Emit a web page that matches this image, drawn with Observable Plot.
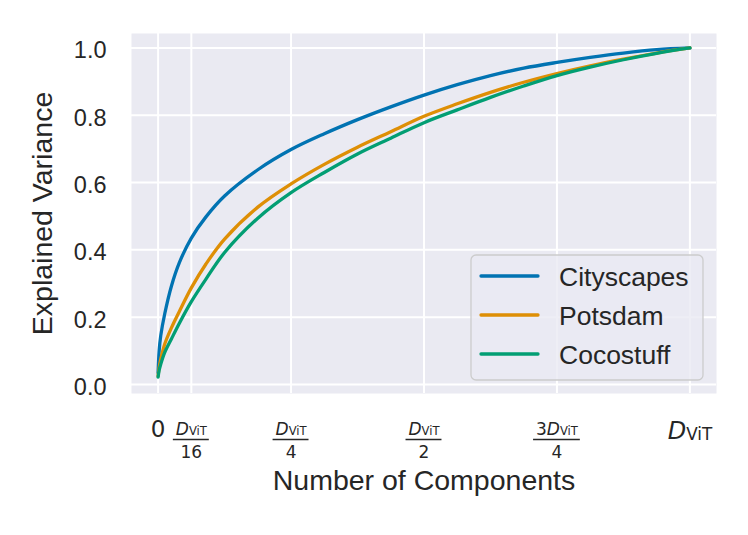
<!DOCTYPE html>
<html>
<head>
<meta charset="utf-8">
<script src="https://cdn.jsdelivr.net/npm/d3@7"></script>
<script src="https://cdn.jsdelivr.net/npm/@observablehq/plot@0.6"></script>
<style>
  html, body { margin: 0; padding: 0; background: #ffffff; }
  #chart svg { display: block; }
</style>
</head>
<body>
<div id="chart"></div>
<script>
// ---- data ----
const xFrac = [0, 0.002, 0.005, 0.0125, 0.025, 0.04, 0.0625, 0.09, 0.125, 0.1875, 0.25, 0.3125, 0.375, 0.4375, 0.5, 0.5625, 0.625, 0.6875, 0.75, 0.8125, 0.875, 0.9375, 1.0];
const cityscapes = [0.035, 0.10, 0.145, 0.21, 0.292, 0.362, 0.435, 0.498, 0.560, 0.638, 0.698, 0.745, 0.787, 0.825, 0.860, 0.891, 0.918, 0.940, 0.957, 0.972, 0.985, 0.995, 1.0];
const potsdam    = [0.025, 0.05, 0.075, 0.12, 0.168, 0.217, 0.287, 0.358, 0.432, 0.527, 0.596, 0.654, 0.705, 0.751, 0.797, 0.834, 0.868, 0.898, 0.924, 0.947, 0.967, 0.985, 1.0];
const cocostuff  = [0.022, 0.042, 0.06, 0.095, 0.135, 0.182, 0.246, 0.313, 0.392, 0.494, 0.570, 0.630, 0.685, 0.732, 0.778, 0.816, 0.853, 0.887, 0.918, 0.943, 0.965, 0.984, 1.0];
const seriesNames = ["Cityscapes", "Potsdam", "Cocostuff"];
const seriesColors = ["#0173B2", "#DE8F05", "#029E73"];
const yTicks = [0, 0.2, 0.4, 0.6, 0.8, 1.0];
const xTicks = [0, 1/16, 1/4, 1/2, 3/4, 1];
const xTickNum = ["", "D", "D", "D", "3D", ""];
const xTickDen = ["", "16", "4", "2", "4", ""];
const xTickPlain = ["0", "", "", "", "", ""];
const xTickBig = ["", "", "", "", "", "D"];
const xTitle = "Number of Components";
const yTitle = "Explained Variance";

const seriesValues = [cityscapes, potsdam, cocostuff];
const rows = seriesNames.flatMap((name, s) => xFrac.map((x, i) => ({series: name, x, y: seriesValues[s][i]})));
const tickRows = xTicks.map((v, i) => ({v, num: xTickNum[i], den: xTickDen[i], plain: xTickPlain[i], big: xTickBig[i]}));

const textColor = "#262626";
const W = 748, H = 535;
const mL = 131, mR = 32, mT = 33, mB = 142;
const mathFont = "'DejaVu Sans', sans-serif";

const plot = Plot.plot({
  width: W,
  height: H,
  marginLeft: mL,
  marginRight: mR,
  marginTop: mT,
  marginBottom: mB,
  style: {fontFamily: "'Liberation Sans', Arial, sans-serif", color: textColor, background: "#ffffff"},
  x: {domain: [-0.05, 1.05], axis: null},
  y: {domain: [-0.027, 1.043]},
  color: {domain: seriesNames, range: seriesColors},
  marks: [
    Plot.frame({fill: "#EAEAF2", stroke: "none"}),
    Plot.gridX({ticks: xTicks, stroke: "#ffffff", strokeOpacity: 1, strokeWidth: 2}),
    Plot.gridY({ticks: yTicks, stroke: "#ffffff", strokeOpacity: 1, strokeWidth: 2}),
    Plot.axisY({ticks: yTicks, tickSize: 0, tickPadding: 25, tickFormat: d3.format(".1f"), fontSize: 23.5, label: null, dy: 3, fill: textColor}),
    Plot.line(rows, {x: "x", y: "y", z: "series", stroke: "series", strokeWidth: 3.3, curve: "catmull-rom", strokeLinecap: "round", strokeLinejoin: "round"}),
    // x tick labels (fractions of D_ViT)
    Plot.text(tickRows.filter(d => d.plain), {x: "v", text: "plain", frameAnchor: "bottom", lineAnchor: "bottom", dy: 43, fontSize: 23, fontFamily: mathFont, fill: textColor}),
    Plot.text(tickRows.filter(d => d.num), {x: "v", text: "num", frameAnchor: "bottom", lineAnchor: "bottom", dy: 41, fontSize: 17, fontFamily: mathFont, fill: textColor}),
    Plot.text(tickRows.filter(d => d.den), {x: "v", text: "den", frameAnchor: "bottom", lineAnchor: "bottom", dy: 64, fontSize: 17, fontFamily: mathFont, fill: textColor}),
    Plot.text(tickRows.filter(d => d.big), {x: "v", text: "big", frameAnchor: "bottom", lineAnchor: "bottom", dy: 45, fontSize: 24, fontFamily: mathFont, fill: textColor}),
    // axis titles
    Plot.text([xTitle], {text: d => d, frameAnchor: "bottom", lineAnchor: "bottom", dy: 96, fontSize: 28.5, fill: textColor}),
    Plot.text([yTitle], {text: d => d, frameAnchor: "left", textAnchor: "middle", lineAnchor: "middle", dx: -89, rotate: -90, fontSize: 28.5, fill: textColor})
  ]
});

document.getElementById("chart").appendChild(plot);

const svgNS = "http://www.w3.org/2000/svg";
function dvit(t, subSize) {
  const s = t.textContent;
  const k = s.indexOf("D");
  const pre = s.slice(0, k);
  t.textContent = "";
  if (pre) { const a = document.createElementNS(svgNS, "tspan"); a.textContent = pre; t.appendChild(a); }
  const d = document.createElementNS(svgNS, "tspan"); d.textContent = "D"; d.setAttribute("font-style", "italic"); t.appendChild(d);
  const sub = document.createElementNS(svgNS, "tspan"); sub.textContent = "ViT"; sub.setAttribute("font-size", subSize); sub.setAttribute("dy", "0.08em"); t.appendChild(sub);
}
// the D_ViT texts, in mark order: four numerators, then the large last tick
const dTexts = Array.from(plot.querySelectorAll("text")).filter(t => /^3?D$/.test(t.textContent.trim()));
const numTexts = dTexts.slice(0, 4);
const bigTexts = dTexts.slice(4);
numTexts.forEach(t => dvit(t, "0.68em"));
bigTexts.forEach(t => dvit(t, "0.7em"));

// fraction bars, sized to the numerator
const xs = plot.scale("x");
const yBottom = H - mB;
const fracTicks = tickRows.filter(d => d.num);
const barG = document.createElementNS(svgNS, "g");
numTexts.forEach((t, i) => {
  const bb = t.getBBox();
  const cx = xs.apply(fracTicks[i].v);
  const w = bb.width + 4;
  const ln = document.createElementNS(svgNS, "line");
  ln.setAttribute("x1", cx - w / 2); ln.setAttribute("x2", cx + w / 2);
  ln.setAttribute("y1", yBottom + 46.5); ln.setAttribute("y2", yBottom + 46.5);
  ln.setAttribute("stroke", textColor); ln.setAttribute("stroke-width", 1.3);
  barG.appendChild(ln);
});
plot.appendChild(barG);

// legend
const lg = d3.select(plot).append("g").attr("font-family", "'Liberation Sans', Arial, sans-serif").attr("text-anchor", "start");
lg.append("rect").attr("x", 471).attr("y", 255).attr("width", 232).attr("height", 125).attr("rx", 5)
  .attr("fill", "#EAEAF2").attr("fill-opacity", 0.8).attr("stroke", "#CCCCCC").attr("stroke-width", 1.3);
seriesNames.forEach((name, i) => {
  const yy = 276 + i * 39;
  lg.append("line").attr("x1", 481).attr("x2", 538).attr("y1", yy).attr("y2", yy)
    .attr("stroke", seriesColors[i]).attr("stroke-width", 3.3).attr("stroke-linecap", "round");
  lg.append("text").attr("x", 559).attr("y", yy + 9.5).attr("text-anchor", "start").attr("font-size", 26.5).attr("fill", textColor).text(name);
});
</script>
</body>
</html>
